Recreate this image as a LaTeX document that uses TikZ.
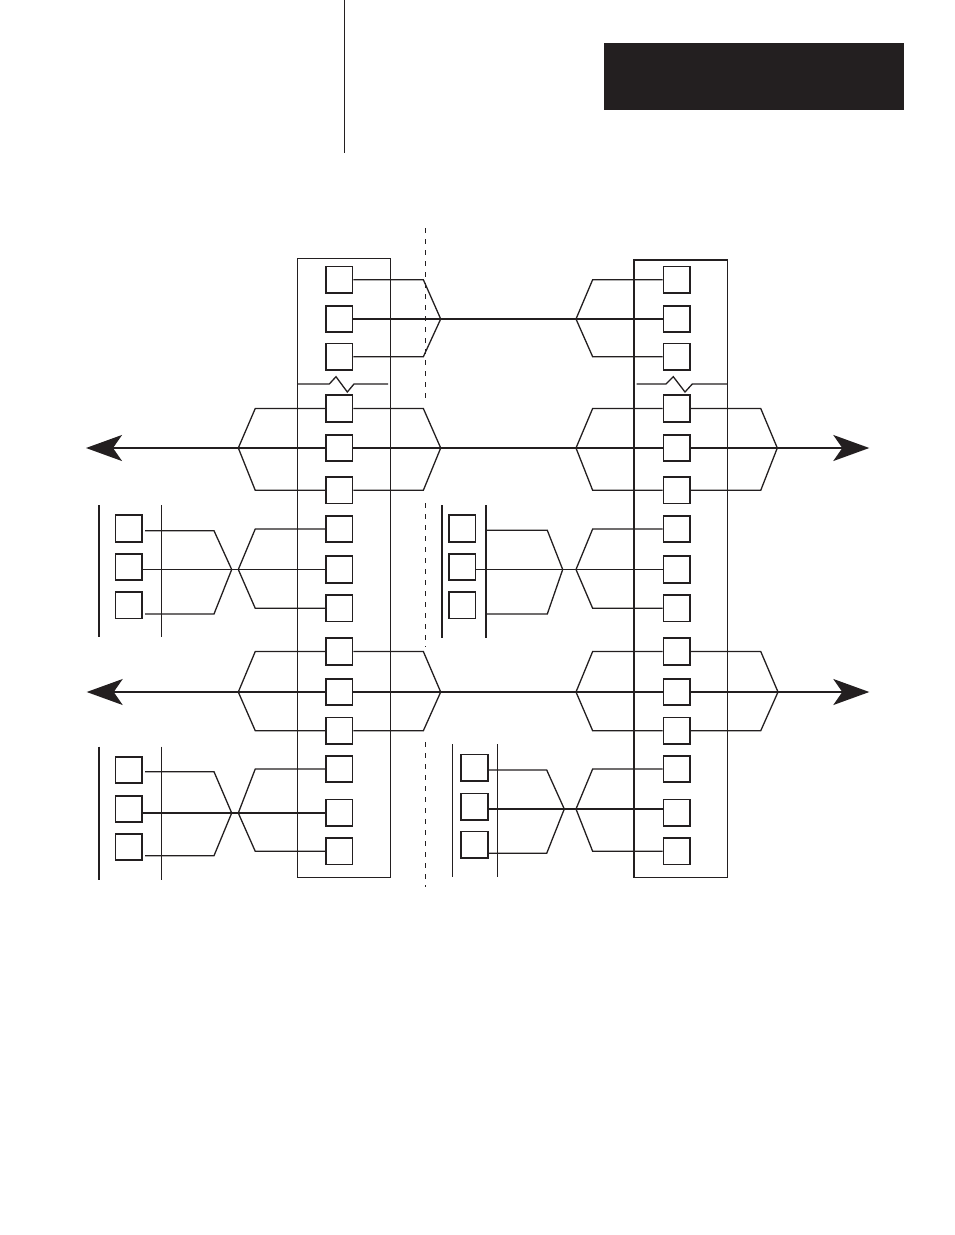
\documentclass[tikz,border=0pt]{standalone}
\usepackage{tikz}
\usetikzlibrary{arrows.meta}
\definecolor{ink}{HTML}{231F20}

\begin{document}
\begin{tikzpicture}[x=1pt,y=-1pt,
  wire/.style={ink,line width=1.3pt},
  heavy/.style={ink,line width=1.9pt},
  rack/.style={ink,line width=1.4pt},
  post/.style={ink,line width=2.2pt},
  term/.style={draw=ink,line width=1.6pt,minimum size=26.5pt,inner sep=0pt},
  toarrow/.style={-{Stealth[length=36pt,width=26pt,inset=9pt]}},
  divider/.style={ink,line width=1.2pt,dash pattern=on 5pt off 6pt}]
\useasboundingbox (0,0) rectangle (954,1235);

% page header
\draw[wire] (344.7,0) -- (344.7,152.7);
\fill[ink] (604,43) rectangle (904,110);

% racks with break marks
\draw[rack] (297.3,258.3) rectangle (390.7,877.3);
\draw[rack] (634,260) rectangle (727.7,877.3);
\draw[wire] (297.3,384) -- (329.3,384) -- (336,376.7) -- (347.3,392) -- (354,384) -- (388,384);
\draw[wire] (636.7,384) -- (666,384) -- (673.3,376.7) -- (685,392) -- (692.3,384) -- (727.7,384);

% divider
\foreach \a/\b in {228/403,503/647,742/887}
  \draw[divider] (425.3,\a) -- (425.3,\b);

% terminals
\foreach \y [count=\i] in {279.7,319,356.7,408.5,448,490.3,529,569.5,608.3,651.5,692,730.7,769,812.7,851.3}{
  \node[term] (L\i) at (339.3,\y) {};
  \node[term] (R\i) at (676.7,\y) {};
}

% small modules
\foreach \y [count=\i] in {528.5,567,605.3}{
  \node[term] (a\i) at (128.8,\y) {};
  \node[term] (b\i) at (462.3,\y) {};
}
\foreach \y [count=\i] in {770,809,847}
  \node[term] (c\i) at (128.8,\y) {};
\foreach \y [count=\i] in {767.7,806.7,844.7}
  \node[term] (d\i) at (474.5,\y) {};
\draw[post] (99,505) -- (99,637.3) (99,746.7) -- (99,880);
\draw[wire] (161.3,505) -- (161.3,637.3) (161.3,746.7) -- (161.3,880);
\draw[post] (442,505) -- (442,637.7) (486,505) -- (486,637.7);
\draw[wire] (452.3,744) -- (452.3,877.3) (497.3,744) -- (497.3,877.3);

% fork points
\coordinate (tA1) at (440.7,319);
\coordinate (tA2) at (576,319);
\coordinate (eB0) at (86,448);
\coordinate (tB0) at (238.3,448);
\coordinate (tB1) at (440.7,448);
\coordinate (tB2) at (576,448);
\coordinate (tB3) at (777.3,448);
\coordinate (eB3) at (869.3,448);
\coordinate (eC0) at (86.7,692);
\coordinate (tC0) at (238.3,692);
\coordinate (tC1) at (440.7,692);
\coordinate (tC2) at (576,692);
\coordinate (tC3) at (778,692);
\coordinate (eC3) at (869.3,692);
\coordinate (sa) at (231.7,569.5);
\coordinate (ta) at (238.3,569.5);
\coordinate (sb) at (562.7,569.5);
\coordinate (tb) at (576,569.5);
\coordinate (sc) at (231.7,813);
\coordinate (tc) at (238.3,813);
\coordinate (sd) at (564.3,809);
\coordinate (td) at (576,809);

% top link
\draw[wire] (L1.east) -- ++(70,0) -- (tA1) -- ([xshift=70pt]L3.east) -- (L3.east);
\draw[wire] (L2.east) -- (tA1) -- (tA2) -- (R2.west);
\draw[wire] (R1.west) -- ++(-70,0) -- (tA2) -- ([xshift=-70pt]R3.west) -- (R3.west);

% upper bus
\draw[heavy,toarrow] (tB0) -- (eB0);
\draw[wire] (L4.west) -- ++(-70,0) -- (tB0) -- ([xshift=-70pt]L6.west) -- (L6.west);
\draw[heavy] (tB0) -- (L5.west) (L5.east) -- (tB1) -- (tB2) -- (R5.west) (R5.east) -- (tB3);
\draw[wire] (L4.east) -- ++(70,0) -- (tB1) -- ([xshift=70pt]L6.east) -- (L6.east);
\draw[wire] (R4.west) -- ++(-70,0) -- (tB2) -- ([xshift=-70pt]R6.west) -- (R6.west);
\draw[wire] (R4.east) -- ++(70,0) -- (tB3) -- ([xshift=70pt]R6.east) -- (R6.east);
\draw[heavy,toarrow] (tB3) -- (eB3);

% lower bus
\draw[wire,toarrow] (tC0) -- (eC0);
\draw[wire] (L10.west) -- ++(-70,0) -- (tC0) -- ([xshift=-70pt]L12.west) -- (L12.west);
\draw[wire] (tC0) -- (L11.west) (L11.east) -- (tC1) -- (tC2) -- (R11.west) (R11.east) -- (tC3);
\draw[wire] (L10.east) -- ++(70,0) -- (tC1) -- ([xshift=70pt]L12.east) -- (L12.east);
\draw[wire] (R10.west) -- ++(-70,0) -- (tC2) -- ([xshift=-70pt]R12.west) -- (R12.west);
\draw[wire] (R10.east) -- ++(70,0) -- (tC3) -- ([xshift=70pt]R12.east) -- (R12.east);
\draw[wire,toarrow] (tC3) -- (eC3);

% module drops
\draw[wire] (145,530.7) -- (214,530.7) -- (sa) -- (214,614) -- (145,614);
\draw[heavy] (a2.east |- sa) -- (L8.west |- ta);
\draw[wire] (L7.west) -- ++(-70,0) -- (ta) -- ([xshift=-70pt]L9.west) -- (L9.west);

\draw[wire] (486,530.3) -- (547.3,530.3) -- (sb) -- (547.3,614) -- (486,614);
\draw[wire] (b2.east |- sb) -- (R8.west |- tb);
\draw[wire] (R7.west) -- ++(-70,0) -- (tb) -- ([xshift=-70pt]R9.west) -- (R9.west);

\draw[wire] (145,771.7) -- (214,771.7) -- (sc) -- (214,855.7) -- (145,855.7);
\draw[heavy] (c2.east |- sc) -- (L14.west |- tc);
\draw[wire] (L13.west) -- ++(-70,0) -- (tc) -- ([xshift=-70pt]L15.west) -- (L15.west);

\draw[wire] (488.3,770) -- (546.7,770) -- (sd) -- (546.7,853.3) -- (488.3,853.3);
\draw[heavy] (d2.east |- sd) -- (R14.west |- td);
\draw[wire] (R13.west) -- ++(-70,0) -- (td) -- ([xshift=-70pt]R15.west) -- (R15.west);
\end{tikzpicture}
\end{document}
